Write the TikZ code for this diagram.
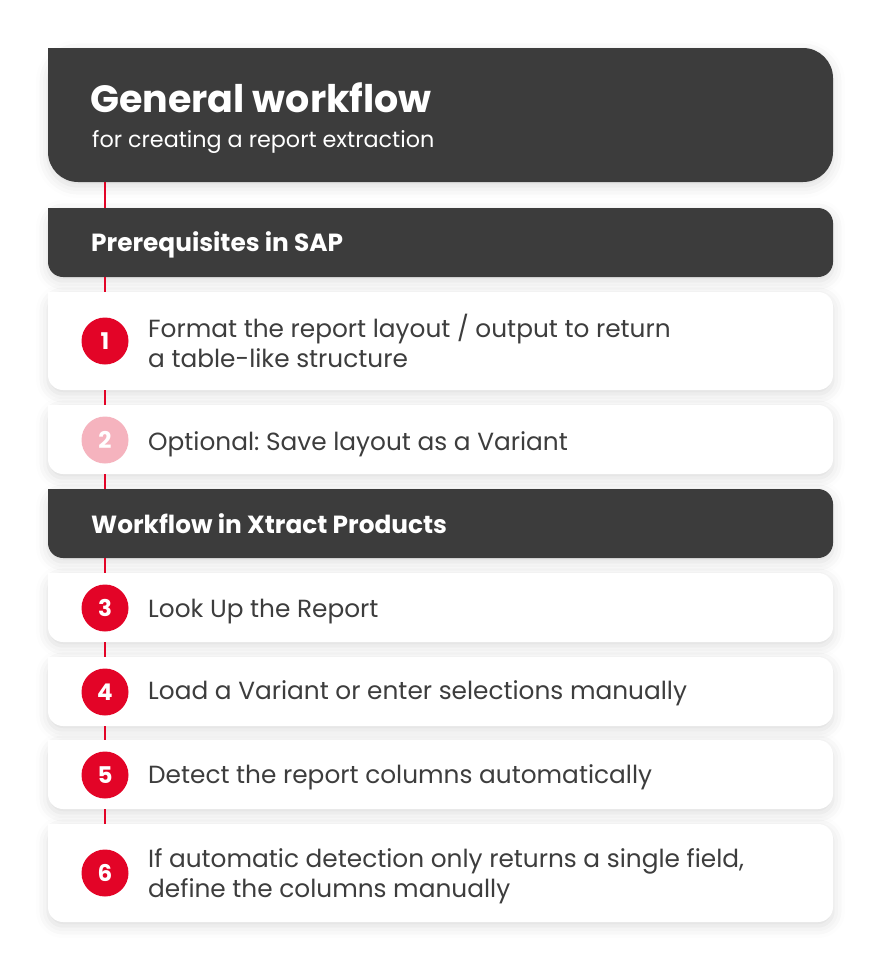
\documentclass[tikz,border=0pt]{standalone}
\usepackage{fontspec}
\setmainfont{Poppins}
\usetikzlibrary{shadows.blur}
\definecolor{barGray}{HTML}{3C3C3C}
\definecolor{textGray}{HTML}{3D3D3D}
\definecolor{xRed}{HTML}{E30427}
\definecolor{xPink}{HTML}{F5B3BE}
\frenchspacing
\begin{document}
\begin{tikzpicture}[x=1pt, y=-1pt,
  shade/.style={blur shadow={shadow xshift=0pt, shadow yshift=-4pt, shadow blur radius=12pt, shadow opacity=14}},
  hdrbox/.style={fill=barGray, rounded corners=30pt, minimum width=785pt, shade},
  barbox/.style={fill=barGray, rounded corners=15pt, minimum width=785pt, minimum height=69pt, shade},
  card/.style={fill=white, rounded corners=15pt, minimum width=785pt, shade},
  num/.style={circle, fill=xRed, minimum size=47pt, inner sep=0pt, text=white, font=\fontsize{23}{26}\selectfont\bfseries},
  bartext/.style={anchor=base west, text=white, inner sep=0pt, font=\fontsize{24.8}{28}\selectfont\bfseries},
  steptext/.style={anchor=base west, text=textGray, align=left, inner sep=0pt, font=\fontsize{24.8}{30}\selectfont},
  redline/.style={draw=xRed, line width=2pt}]
\useasboundingbox (0,0) rectangle (880,978);
\node[hdrbox, minimum height=134pt] (hdr) at (440.5,115) {};
\node[barbox] (bar1) at (440.5,242.5) {};
\node[card, minimum height=98pt] (card1) at (440.5,341) {};
\node[card, minimum height=69pt] (card2) at (440.5,439.5) {};
\node[barbox] (bar2) at (440.5,523.5) {};
\node[card, minimum height=69pt] (card3) at (440.5,607.5) {};
\node[card, minimum height=69pt] (card4) at (440.5,691.5) {};
\node[card, minimum height=69pt] (card5) at (440.5,774.5) {};
\node[card, minimum height=98pt] (card6) at (440.5,873) {};
\fill[barGray] (hdr.north west) rectangle ++(30,30);
\foreach \n in {bar1,bar2} \fill[barGray] (\n.north west) rectangle ++(15,15);
\foreach \n in {card1,card2,card3,card4,card5,card6} \fill[white] (\n.north west) rectangle ++(15,15);

\node[num] (n1) at (105,341) {1};
\node[num, fill=xPink] (n2) at (105,440) {2};
\node[num] (n3) at (105,608) {3};
\node[num] (n4) at (105,692) {4};
\node[num] (n5) at (105,775) {5};
\node[num] (n6) at (105,873) {6};

\foreach \a/\b in {hdr/bar1, bar1/card1, card1/card2, card2/bar2, bar2/card3, card3/card4, card4/card5, card5/card6}
  \draw[redline] (\a.south -| n1) -- (\b.north -| n1);

\node[anchor=base west, text=white, inner sep=0pt, font=\fontsize{38}{44}\selectfont\bfseries] (title) at (90,112) {General workflow};
\node[anchor=base west, text=white, inner sep=0pt, font=\fontsize{22.3}{26}\selectfont] (sub) at (92,147) {for creating a report extraction};
\node[bartext] (t1) at (91,251) {Prerequisites in SAP};
\node[bartext] (t2) at (91,533) {Workflow in Xtract Products};
\node[steptext] (s1) at (148,367) {Format the report layout / output to return\\a table-like structure};
\node[steptext] (s2) at (148,450) {Optional: Save layout as a Variant};
\node[steptext] (s3) at (148,617) {Look Up the Report};
\node[steptext] (s4) at (148,699) {Load a Variant or enter selections manually};
\node[steptext] (s5) at (148,783) {Detect the report columns automatically};
\node[steptext] (s6) at (148,897) {If automatic detection only returns a single field,\\define the columns manually};
\end{tikzpicture}
\end{document}
